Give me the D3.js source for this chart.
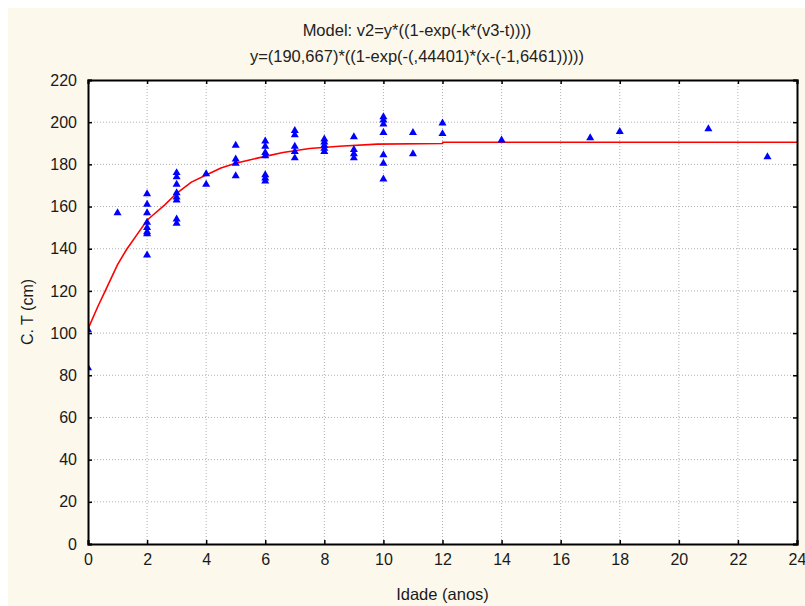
<!DOCTYPE html>
<html><head><meta charset="utf-8">
<script src="https://cdn.jsdelivr.net/npm/d3@7/dist/d3.min.js"></script>
<style>body{margin:0;background:#fff}svg{display:block}text{font-family:"Liberation Sans",Arial,sans-serif}</style>
</head><body>
<svg id="c" width="805" height="606"></svg>
<script>
const titleLines = ["Model: v2=y*((1-exp(-k*(v3-t))))", "y=(190,667)*((1-exp(-(,44401)*(x-(-1,6461)))))"];
const xLabel = "Idade (anos)";
const yLabel = "C. T (cm)";
const xTicks = [0,2,4,6,8,10,12,14,16,18,20,22,24];
const yTicks = [0,20,40,60,80,100,120,140,160,180,200,220];

const pointAge = [0,0, 1,
 2,2,2,2,2,2,2,2,
 3,3,3,3,3,3,3,3,
 4,4, 5,5,5,5,
 6,6,6,6,6,6,6,
 7,7,7,7,7,
 8,8,8,8,8,
 9,9,9,9,
 10,10,10,10,10,10,10,
 11,11, 12,12, 14, 17, 18, 21, 23];
const pointLength = [101.5,83.5, 157,
 166,161,157,152.5,150,148,147,137,
 176,174,170.5,166.5,164.5,163,154,152,
 175.5,170.5, 189,182.5,180.5,174.5,
 191,188.5,185.5,184,175,173.5,172,
 196,194,188.5,186,183,
 192,190.5,189,187.5,186,
 193,187,185,183,
 202.5,201,199,195,184.5,180.5,173,
 195,185, 199.5,194.5, 191.5, 192.5, 195.5, 196.8, 183.5];

const curveAge = [0,0.33,0.6,1.0,1.3,1.7,2.0,2.2,2.6,3.0,3.5,4.0,4.5,5.0,5.5,6.0,6.6,7.5,8.5,9.8,12,12.01,24];
const curveLength = [102,112.5,120.5,132.5,139.5,147.5,153.5,156,160.8,166.3,171.6,175,178.3,180.5,182.2,183.8,185.6,187.5,188.6,189.6,189.9,190.5,190.5];

const svg = d3.select("#c");
const L=88, R=797, T=80, B=544;
svg.append("rect").attr("x",8).attr("y",8).attr("width",805).attr("height",606).attr("fill","#fdf8ec");
svg.append("rect").attr("x",L).attr("y",T).attr("width",R-L).attr("height",B-T).attr("fill","#fff");

const x = d3.scaleLinear().domain([0,24]).range([L,R]);
const y = d3.scaleLinear().domain([0,220]).range([B,T]);

const g = svg.append("g");
g.selectAll(".gx").data(xTicks.slice(1,-1)).join("line")
 .attr("x1",d=>x(d)).attr("x2",d=>x(d)).attr("y1",T).attr("y2",B)
 .attr("stroke","#b0b0b0").attr("stroke-dasharray","1,2").attr("stroke-width",1);
g.selectAll(".gy").data(yTicks.slice(1,-1)).join("line")
 .attr("y1",d=>y(d)).attr("y2",d=>y(d)).attr("x1",L).attr("x2",R)
 .attr("stroke","#b0b0b0").attr("stroke-dasharray","1,2").attr("stroke-width",1);

svg.append("clipPath").attr("id","pc").append("rect").attr("x",L).attr("y",T).attr("width",R-L).attr("height",B-T);
const pg = svg.append("g").attr("clip-path","url(#pc)");

pg.append("path").datum(curveAge.map((a,i)=>[a,curveLength[i]]))
 .attr("d", d3.line().x(d=>x(d[0])).y(d=>y(d[1])))
 .attr("fill","none").attr("stroke","#ff0000").attr("stroke-width",1.6);

const tri = d3.symbol().type(d3.symbolTriangle).size(28);
pg.selectAll(".pt").data(pointAge.map((a,i)=>[a,pointLength[i]])).join("path")
 .attr("d",tri).attr("transform",d=>`translate(${x(d[0])},${y(d[1])})`)
 .attr("fill","#0000ff");

const ax = svg.append("g");
ax.append("g").attr("transform",`translate(0,${B})`).call(d3.axisBottom(x).tickValues(xTicks).tickSize(-4).tickPadding(10).tickFormat(d3.format("d")));
ax.append("g").attr("transform",`translate(0,${T})`).call(d3.axisTop(x).tickValues(xTicks).tickSize(-4).tickFormat(""));
ax.append("g").attr("transform",`translate(${L},0)`).call(d3.axisLeft(y).tickValues(yTicks).tickSize(-4).tickPadding(11).tickFormat(d3.format("d")));
ax.append("g").attr("transform",`translate(${R},0)`).call(d3.axisRight(y).tickValues(yTicks).tickSize(-4).tickFormat(""));
ax.selectAll(".domain").attr("stroke","#000").attr("stroke-width",2);
ax.selectAll(".tick line").attr("stroke","#000").attr("stroke-width",1.5);
ax.selectAll(".tick text").attr("font-size",16).attr("fill","#1a1a1a").attr("font-family","Liberation Sans, Arial, sans-serif");

svg.append("text").attr("x",(L+R)/2).attr("y",600).attr("text-anchor","middle").attr("font-size",16.5).attr("fill","#1a1a1a").text(xLabel);
svg.append("text").attr("transform",`translate(33,${(T+B)/2}) rotate(-90)`).attr("text-anchor","middle").attr("font-size",16).attr("fill","#1a1a1a").text(yLabel);

svg.selectAll(".title").data(titleLines).join("text")
 .attr("x",417).attr("y",(d,i)=>36+i*26).attr("text-anchor","middle").attr("font-size",16.5).attr("fill","#222").text(d=>d);
</script>
</body></html>
